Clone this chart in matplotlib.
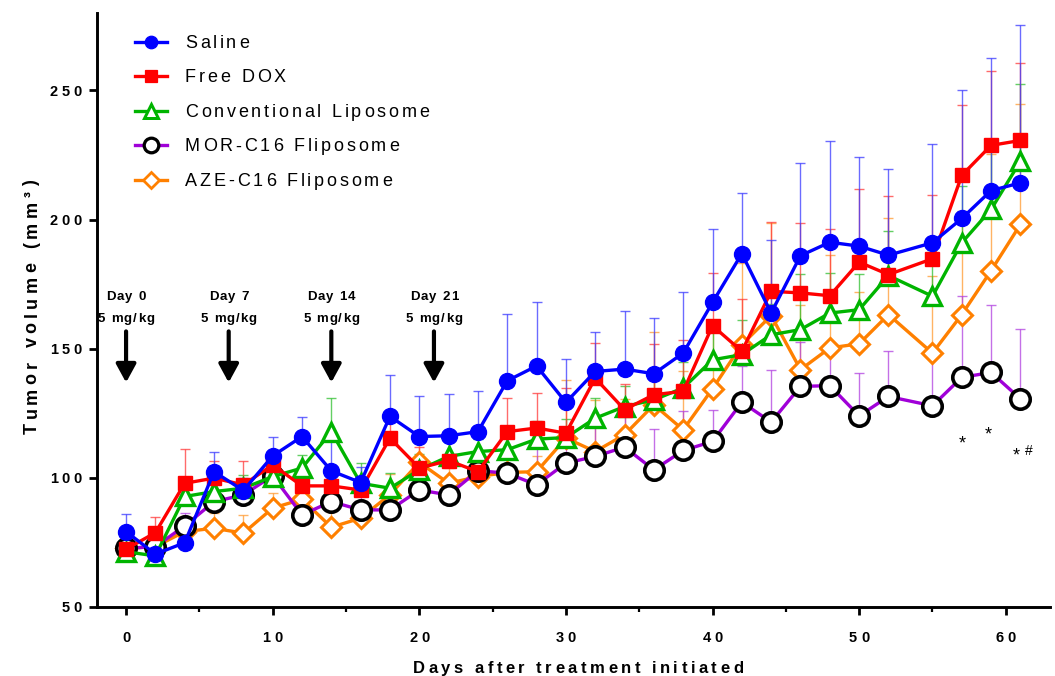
import matplotlib
matplotlib.use("Agg")
import matplotlib.pyplot as plt
from matplotlib.ticker import MultipleLocator, NullFormatter
from matplotlib.lines import Line2D
from matplotlib.textpath import TextToPath
from matplotlib.font_manager import FontProperties
from matplotlib.transforms import offset_copy

FONT = ["Liberation Sans", "DejaVu Sans"]
plt.rcParams['font.family'] = FONT

# Measurement days after treatment start
days = [0, 2, 4, 6, 8, 10, 12, 14, 16, 18, 20, 22, 24, 26, 28, 30, 32, 34, 36, 38,
        40, 42, 44, 46, 48, 50, 52, 55, 57, 59, 61]

# Mean tumor volume (mm^3) per group
saline = [79.2, 70.5, 74.9, 102.4, 95.1, 108.5, 116.0, 102.7, 98.2, 123.8, 116.0,
          116.3, 117.9, 137.6, 143.3, 129.2, 141.2, 142.1, 140.3, 148.3, 167.9,
          186.8, 163.8, 186.0, 191.2, 189.7, 186.2, 191.0, 200.4, 211.2, 214.2]
free_dox = [72.4, 78.8, 97.9, 99.9, 97.3, 105.0, 96.9, 96.9, 95.3, 115.4, 103.8,
            106.7, 102.4, 117.9, 119.3, 117.3, 138.6, 126.4, 132.2, 133.5, 158.9,
            149.0, 172.2, 171.6, 170.5, 183.5, 178.7, 184.8, 217.1, 228.7, 230.6]
conv_lipo = [71.4, 69.8, 92.8, 94.7, 96.0, 100.5, 103.8, 117.9, 97.9, 96.0, 103.1,
             108.3, 110.2, 110.9, 115.0, 115.6, 123.1, 127.6, 130.2, 134.8, 145.7,
             147.7, 155.4, 157.4, 163.8, 165.1, 178.3, 170.3, 191.0, 203.9, 222.6]
mor_c16 = [72.7, 73.4, 81.4, 90.8, 93.4, 100.8, 85.7, 90.8, 87.6, 87.6, 95.3,
           93.4, 102.8, 101.8, 97.3, 105.7, 108.3, 111.9, 103.1, 110.6, 114.1,
           129.3, 121.6, 135.4, 135.7, 124.0, 131.5, 127.9, 138.9, 140.8, 130.6]
aze_c16 = [72.7, 73.4, 79.2, 80.5, 78.6, 88.3, 91.7, 80.9, 84.4, 93.5, 106.0,
           97.9, 100.5, 102.1, 102.4, 115.4, 110.2, 116.7, 128.3, 118.6, 134.5,
           151.6, 162.8, 141.9, 150.3, 151.9, 163.2, 148.3, 163.2, 180.2, 198.1]

# Upper SEM per group
saline_err = [6.8, 4, 4, 7.8, 5, 7.3, 7.5, 12.3, 6, 16.2, 15.8, 16.1, 15.9, 26, 24.8,
              16.8, 15.1, 22.4, 21.6, 23.5, 28.5, 23.5, 28.4, 36, 39.2, 34.5, 33.4,
              38.1, 49.9, 51.3, 61]
free_dox_err = [3, 6.2, 13.2, 6.7, 9.3, 5, 5, 5, 5, 8, 8, 8, 5, 13, 13.5, 17.5, 13.6,
                10, 19.6, 19.7, 20.4, 20.4, 27, 27, 26, 28.4, 30.4, 24.5, 27.3, 28.8, 30]
conv_lipo_err = [3, 3, 4, 5, 5, 5, 5, 13.2, 8, 6, 6, 6, 5, 6, 7, 7.3, 8, 8, 9, 10,
                 15.3, 13.3, 12, 21.6, 15.5, 14, 17.2, 18, 22, 25, 30]
mor_c16_err = [2, 3, 5, 4, 6, 8, 5, 6, 6, 6, 6, 6, 4, 6, 14.2, 10, 13.5, 13, 15.8,
               15.1, 12, 14, 20.3, 17, 14.6, 16.6, 17.7, 20, 31.4, 26, 27]
aze_c16_err = [3, 3, 6, 6, 7, 6, 6, 6, 6, 8, 8, 6, 6, 6, 6, 22.3, 20, 14, 28, 22.6,
               22, 31.6, 36, 25, 36, 20, 37.5, 30, 40, 45.3, 46.5]

group_names = ["Saline", "Free DOX", "Conventional Liposome",
               "MOR-C16 Fliposome", "AZE-C16 Fliposome"]

# Dosing schedule
dose_days = [0, 7, 14, 21]
dose_labels = ["Day 0", "Day 7", "Day 14", "Day 21"]
dose_text = "5 mg/kg"

# Significance marks: (day, volume, text, size)
sig_marks = [(57, 113.0, "*", 13), (58.8, 116.6, "*", 13), (60.7, 108.3, "*", 13),
             (61.6, 110.5, "#", 10)]

x_ticks = [0, 10, 20, 30, 40, 50, 60]
y_ticks = [50, 100, 150, 200, 250]

W, H = 1055, 676
fig = plt.figure(figsize=(W / 100, H / 100), dpi=100)
ax = fig.add_axes([0.0917, 0.102, 0.9033, 0.879])

_ttp = TextToPath()


def _advance(s, fp):
    """Horizontal advance (points) of string s, measured against a sentinel glyph."""
    if not s:
        return 0.0
    ref = _ttp.get_text_width_height_descent("l", fp, ismath=False)[0]
    return _ttp.get_text_width_height_descent(s + "l", fp, ismath=False)[0] - ref


def spaced_text(x, y, s, size, tracking, transform, weight="bold", align="center",
                rotation=0, shift=(0.0, 0.0)):
    """Draw s with extra letter spacing (tracking, in points) on a common baseline."""
    fp = FontProperties(family=FONT, size=size, weight=weight)
    n = len(s)
    total = _advance(s, fp) + tracking * (n - 1)
    start = {"left": 0.0, "center": -total / 2, "right": -total}[align]
    for i, ch in enumerate(s):
        if ch == " ":
            continue
        along = start + _advance(s[:i], fp) + tracking * i
        if rotation == 90:
            dx, dy = shift[0], shift[1] + along
        else:
            dx, dy = shift[0] + along, shift[1]
        tr = offset_copy(transform, fig=fig, x=dx, y=dy, units="points")
        ax.text(x, y, ch, transform=tr, fontsize=size, fontweight=weight,
                family=FONT, ha="left", va="baseline", rotation=rotation,
                rotation_mode="anchor", clip_on=False)


styles = [
    dict(y=saline, e=saline_err, line="#0000FF", err="#3A3AFF", marker="o",
         mfc="#0000FF", mec="#0000FF", ms=11.5, mew=1, lms=9.0, z=10),
    dict(y=free_dox, e=free_dox_err, line="#FF0000", err="#FF3A3A", marker="s",
         mfc="#FF0000", mec="#FF0000", ms=10.5, mew=1, lms=8.5, z=9),
    dict(y=conv_lipo, e=conv_lipo_err, line="#00B400", err="#30C030", marker="^",
         mfc="white", mec="#00B400", ms=13, mew=2.4, lms=10.5, z=8),
    dict(y=mor_c16, e=mor_c16_err, line="#A000D8", err="#B040E0", marker="o",
         mfc="white", mec="black", ms=14, mew=2.6, lms=10.5, z=7),
    dict(y=aze_c16, e=aze_c16_err, line="#FF8000", err="#FF9A30", marker="D",
         mfc="white", mec="#FF8000", ms=10, mew=2.2, lms=8.0, z=6),
]

for st, name in zip(styles, group_names):
    lower = [0] * len(st["e"])
    ax.errorbar(days, st["y"], yerr=[lower, st["e"]], fmt="none", ecolor=st["err"],
                elinewidth=1.0, capsize=3.5, capthick=1.0, alpha=0.75,
                zorder=st["z"] - 5)
    ax.plot(days, st["y"], color=st["line"], lw=2.4, marker=st["marker"],
            ms=st["ms"], mfc=st["mfc"], mec=st["mec"], mew=st["mew"],
            zorder=st["z"], label=name)

# Dosing arrows with labels
for d, lab in zip(dose_days, dose_labels):
    spaced_text(d, 169.0, lab, 9.5, 0.8, ax.transData)
    spaced_text(d, 160.2, dose_text, 9.5, 0.8, ax.transData)
    ax.annotate("", xy=(d, 136.9), xytext=(d, 156.7),
                arrowprops=dict(arrowstyle="-|>,head_length=0.55,head_width=0.3",
                                lw=3, color="black", mutation_scale=20,
                                shrinkA=0, shrinkB=0))

for d, v, t, s in sig_marks:
    ax.text(d, v, t, ha="center", va="center", fontsize=s)

ax.set_xlim(-2, 63)
ax.set_ylim(50, 280)
ax.set_xticks(x_ticks)
ax.xaxis.set_minor_locator(MultipleLocator(5))
ax.set_yticks(y_ticks)
ax.xaxis.set_major_formatter(NullFormatter())
ax.yaxis.set_major_formatter(NullFormatter())

for side in ("top", "right"):
    ax.spines[side].set_visible(False)
for side in ("left", "bottom"):
    ax.spines[side].set_linewidth(2.1)

ax.tick_params(axis="both", which="major", direction="out", length=6, width=2)
ax.tick_params(axis="x", which="minor", direction="out", length=3.5, width=1.6)

# Tick labels
for t in x_ticks:
    spaced_text(t, 0, str(t), 10.5, 2.8, ax.get_xaxis_transform(), shift=(0, -25.0))
for t in y_ticks:
    spaced_text(0, t, str(t), 10.5, 2.8, ax.get_yaxis_transform(), align="right",
                shift=(-10.8, -3.8))

# Axis titles
spaced_text(578 / W, 1 - 673 / H, "Days after treatment initiated", 12, 2.5,
            fig.transFigure)
spaced_text(36.5 / W, 1 - 307 / H, "Tumor volume (mm³)", 13, 3.2, fig.transFigure,
            rotation=90)

# Legend
row_y = [41.5, 76, 110.5, 145, 179.5]
for st, name, yp in zip(styles, group_names, row_y):
    yf = 1 - yp / H
    fig.add_artist(Line2D([135 / W, 167 / W], [yf, yf], transform=fig.transFigure,
                          color=st["line"], lw=2.4))
    fig.add_artist(Line2D([151 / W], [yf], transform=fig.transFigure,
                          marker=st["marker"], ms=st["lms"], mfc=st["mfc"],
                          mec=st["mec"], mew=st["mew"] * 0.9, lw=0))
    spaced_text(185 / W, yf, name, 13, 2.0, fig.transFigure, weight="normal",
                align="left", shift=(0, -4.65))

fig.savefig("out.png", dpi=100)
